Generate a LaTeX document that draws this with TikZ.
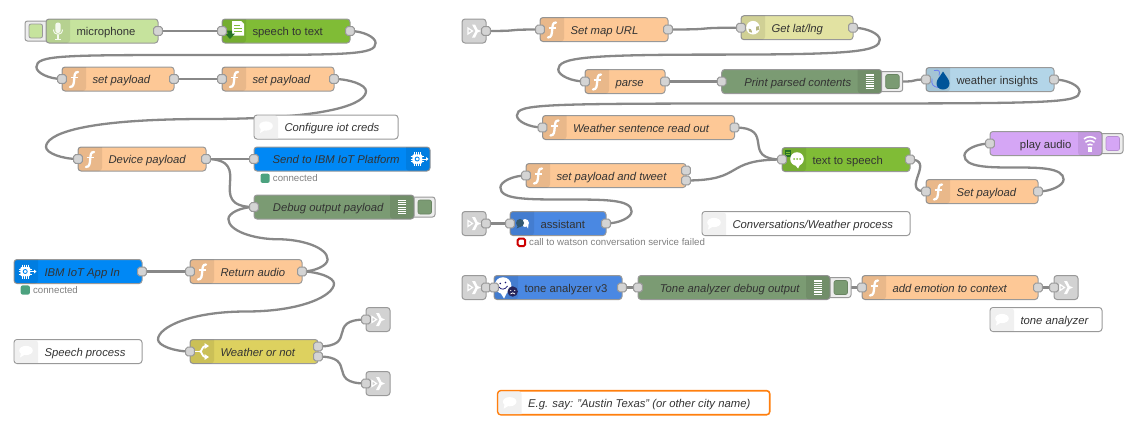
\documentclass[tikz,border=0pt]{standalone}
\usepackage{fontspec}
\setmainfont{Liberation Sans}
\pgfdeclarelayer{wires}
\pgfsetlayers{wires,main}
\definecolor{cfunc}{HTML}{FDC896}
\definecolor{cmic}{HTML}{C6E39D}
\definecolor{cstt}{HTML}{80BC36}
\definecolor{cgeo}{HTML}{E2E2A2}
\definecolor{cdebug}{HTML}{7B9B73}
\definecolor{ciot}{HTML}{0088F5}
\definecolor{cinsight}{HTML}{B3D5E8}
\definecolor{cplay}{HTML}{D5A6F5}
\definecolor{cswitch}{HTML}{DDD15F}
\definecolor{cwatson}{HTML}{4A88E2}
\definecolor{clink}{HTML}{D2D2D2}
\definecolor{cborder}{HTML}{999999}
\definecolor{ctxt}{HTML}{333333}
\definecolor{cwire}{HTML}{888888}
\definecolor{cok}{HTML}{4CA27F}
\tikzset{
  nrbody/.style={draw=cborder,line width=1pt,rounded corners=3pt,inner sep=0pt,outer sep=0pt,
     minimum height=24pt,anchor=north west,text=ctxt,text height=10.5pt,text depth=1.5pt,
     font=\fontsize{11.3}{13}\selectfont},
  port/.style={draw=cborder,fill=black!17,line width=1pt,rounded corners=1.8pt,inner sep=0pt,outer sep=0pt,
     minimum width=8.6pt,minimum height=8.6pt},
  wireline/.style={draw=cwire,line width=2.3pt},
  statustext/.style={anchor=west,inner sep=0pt,text=black!50,font=\fontsize{9.7}{11}\selectfont},
  btnouter/.style={draw=cborder,fill=black!7,line width=1pt,rounded corners=2.5pt},
  ink/.style={draw=white,line width=2pt,line cap=round},
}
\newcommand\stripL[2]{\fill[black,fill opacity=.08,rounded corners=3pt] (#1+24,#2) -- (#1,#2) -- (#1,#2+24) -- (#1+24,#2+24) [sharp corners] -- cycle;}
\newcommand\stripR[3]{\fill[black,fill opacity=.08,rounded corners=3pt] (#1+#3-24,#2) -- (#1+#3,#2) -- (#1+#3,#2+24) -- (#1+#3-24,#2+24) [sharp corners] -- cycle;}
% name,x,y,w,colour,label,icon
\newcommand\lnode[7]{%
  \node[nrbody,fill=#5,minimum width=#4pt] (#1) at (#2,#3) {\makebox[#4pt][l]{\hspace{30.5pt}#6}};
  \stripL{#2}{#3}
  \begin{scope}[shift={(#2,#3)}]#7\end{scope}}
\newcommand\rnode[7]{%
  \node[nrbody,fill=#5,minimum width=#4pt] (#1) at (#2,#3) {\makebox[#4pt][r]{#6\hspace{30.5pt}}};
  \stripR{#2}{#3}{#4}
  \begin{scope}[shift={(#2+#4-24,#3)}]#7\end{scope}}
% link node: no strip, just the grey square and its icon
\newcommand\knode[3]{%
  \node[nrbody,fill=clink,minimum width=24pt] (#1) at (#2,#3) {};
  \begin{scope}[shift={(#2,#3)}]\iclink\end{scope}}
\newcommand\cnode[5][]{%
  \node[nrbody,fill=white,minimum width=#5pt,#1] (#2) at (#3,#4) {\makebox[#5pt][l]{\hspace{30.5pt}\itshape\csname lbl#2\endcsname}};
  \fill[black!6,rounded corners=3pt] (#3+.6,#4+.6) -- (#3+24,#4+.6) [sharp corners] -- (#3+24,#4+23.4) [rounded corners=3pt] -- (#3+.6,#4+23.4) -- cycle;
  \begin{scope}[shift={(#3,#4)}]\iccomment\end{scope}}
\newcommand\inp[1]{\node[port] (#1-i) at (#1.west) {};}
\newcommand\outp[1]{\node[port] (#1-o) at (#1.east) {};}
\newcommand\btnL[3]{\path[btnouter] (#1-21,#2+2) rectangle (#1+3,#2+22);
  \fill[#3,draw=cborder,line width=.8pt,rounded corners=2pt] (#1-17,#2+5) rectangle (#1-3.5,#2+19);}
\newcommand\btnR[3]{\path[btnouter] (#1-3,#2+2) rectangle (#1+21,#2+22);
  \fill[#3,draw=#3!85!black,line width=.6pt,rounded corners=2pt] (#1+4,#2+5) rectangle (#1+17.5,#2+19);}
\newcommand\stat[5]{\fill[#4,rounded corners=2pt] (#2,#3-4.6) rectangle (#2+9.2,#3+4.6);
  \node[statustext] (#1) at (#2+12.2,#3) {#5};}
% wire computation
\newcommand\wire[2]{%
  \pgfpointanchor{#1}{center}\pgfgetlastxy{\wxa}{\wya}%
  \pgfpointanchor{#2}{center}\pgfgetlastxy{\wxb}{\wyb}%
  \pgfmathsetmacro\pxa{\wxa}\pgfmathsetmacro\pya{0-(\wya)}%
  \pgfmathsetmacro\pxb{\wxb}\pgfmathsetmacro\pyb{0-(\wyb)}%
  \pgfmathsetmacro\dxx{\pxb-\pxa}\pgfmathsetmacro\dyy{\pyb-\pya}%
  \begin{pgfonlayer}{wires}
  \ifdim\dxx pt>0pt
    \pgfmathsetmacro\del{sqrt(\dxx*\dxx+\dyy*\dyy)}%
    \pgfmathsetmacro\ctl{0.75*min(\del,80)}%
    \draw[wireline] (#1.center) .. controls (\pxa+\ctl,\pya) and (\pxb-\ctl,\pyb) .. (#2.center);
  \else
    \pgfmathsetmacro\ext{80*(0.4-0.2*max(0,(80-min(abs(\dxx),abs(\dyy)))/80))}%
    \ifdim\dyy pt>0pt\def\sgn{1}\else\def\sgn{-1}\fi
    \pgfmathsetmacro\mx{(\pxa+\pxb)/2}\pgfmathsetmacro\my{(\pya+\pyb)/2}%
    \pgfmathsetmacro\tx{\pxa+\ext}\pgfmathsetmacro\bx{\pxb-\ext}%
    \pgfmathsetmacro\ty{\pya+\sgn*12}\pgfmathsetmacro\by{\pyb-\sgn*12}%
    \pgfmathsetmacro\txh{(\pxa+\tx)/2}\pgfmathsetmacro\tyh{(\pya+\ty)/2}%
    \pgfmathsetmacro\bxh{(\pxb+\bx)/2}\pgfmathsetmacro\byh{(\pyb+\by)/2}%
    \pgfmathsetmacro\tyc{\ty+\sgn*12}\pgfmathsetmacro\byc{\by-\sgn*12}%
    \draw[wireline] (#1.center) .. controls (\txh,\pya) and (\tx,\tyh) .. (\tx,\ty)
       .. controls (\tx,\tyc) and (\tx-\ext,\my) .. (\mx,\my)
       .. controls (\bx+\ext,\my) and (\bx,\byc) .. (\bx,\by)
       .. controls (\bx,\byh) and (\bxh,\pyb) .. (#2.center);
  \fi
  \end{pgfonlayer}}
% icons (24x24 local, y down)
\newcommand\icf{\draw[ink,line width=2.3pt] (16,5) .. controls (12.5,5) and (12.7,8) .. (12.2,12) .. controls (11.8,16) and (11.8,20) .. (8,20);
  \draw[ink,line cap=butt,line width=1.8pt] (8.5,10.5) -- (15.5,10.5);}
\newcommand\icdebug{\foreach \yy in {5.5,7.7,9.9,12.1,14.3,16.5,18.7}{\draw[white,line width=1.1pt] (8,\yy) -- (16,\yy);}}
\newcommand\iclink{\draw[white,line width=1.2pt] (6,9) -- (6,15) -- (10.5,12) -- cycle;
  \fill[white] (10,5.5) -- (13,5.5) -- (15.5,10.5) -- (19,12) -- (15.5,13.5) -- (13,18.5) -- (10,18.5) -- (13.5,12) -- cycle;}
\newcommand\iccomment{\fill[white] (12,11) ellipse (6.8 and 4.6);\fill[white] (7,13) -- (6,18) -- (11,15) -- cycle;}
\newcommand\icmic{\fill[white,opacity=.85,rounded corners=2.4pt] (9.3,3.5) rectangle (14.7,14);
  \draw[white,opacity=.85,line width=1pt] (7.5,10.5) .. controls (7.5,17) and (16.5,17) .. (16.5,10.5);
  \draw[white,opacity=.85,line width=1.2pt] (12,16) -- (12,20) (9,20.3) -- (15,20.3);}
\newcommand\icdoc{\fill[white] (10,2) -- (19,2) -- (22,5) -- (22,16.5) -- (10,16.5) -- cycle;
  \draw[cstt,line width=1.1pt] (12,6.5) -- (18,6.5) (12,9.5) -- (20,9.5) (12,12.5) -- (20,12.5);
  \fill[green!35!black!85] (5,11.5) -- (10,11.5) -- (10,14.5) -- (13,14.5) -- (8,20) -- (3.5,15) -- (6,15) -- cycle;}
\newcommand\ictts{\fill[green!35!black!85] (2.5,2.5) rectangle (9,9.5);
  \draw[cstt,line width=.7pt] (3.5,4.5) -- (8,4.5) (3.5,6.5) -- (8,6.5);
  \fill[white] (15,11.5) circle (6.8);\fill[white] (12,16) -- (16,21) -- (19,15) -- cycle;
  \fill[cstt] (12,11.5) circle (1) (15,11.5) circle (1) (18,11.5) circle (1);}
\newcommand\icdrop{\draw[cinsight!60!blue,line width=.8pt] (8,3) .. controls (14,2) and (14,4) .. (13,8) (6,11) .. controls (5,17) and (7,19) .. (12,20);
  \fill[blue!45!cyan!60!black] (17,4) .. controls (20,9) and (23.5,12) .. (23.5,16) .. controls (23.5,24) and (10.5,24) .. (10.5,16) .. controls (10.5,12) and (14,9) .. (17,4) -- cycle;}
\newcommand\icwifi{\draw[white,line width=1.5pt] (6,7.5) .. controls (9,4.5) and (15,4.5) .. (18,7.5);
  \draw[white,line width=1.5pt] (7.5,10.8) .. controls (10,8.5) and (14,8.5) .. (16.5,10.8);
  \draw[white,line width=1.5pt] (9.5,13.5) .. controls (11,12.5) and (13,12.5) .. (14.5,13.5);
  \fill[white] (9.7,15.5) rectangle (14.3,20);}
\newcommand\icwatson{\fill[white] (15,11.5) circle (4);\fill[white] (16,14) -- (18,17) -- (18.5,13) -- cycle;
  \fill[blue!40!cyan!30!black!80] (10,11.5) circle (4);\fill[blue!40!cyan!30!black!80] (8,14) -- (6.5,17) -- (11,15) -- cycle;}
\newcommand\ictone{\fill[white] (9,10) circle (8.3);\fill[white] (5,15) -- (10,23) -- (14,15) -- cycle;
  \fill[blue!40!black!90] (6.2,8) circle (.9) (11.5,7) circle (.9);
  \draw[blue!40!black!90,line width=.8pt] (5,11.5) .. controls (7,14.5) and (11,14.5) .. (13.5,10.5);
  \fill[blue!25!black!85] (18.7,16) circle (5.2);
  \fill[white] (16.7,15) circle (.7) (20.7,15) circle (.7);
  \draw[white,line width=.7pt] (16.5,18.5) .. controls (17.5,17) and (20,17) .. (21,18.5);}
\newcommand\icglobe{\fill[white] (12,12) circle (6.8);
  \fill[cgeo!80!black] (7.5,13) .. controls (9,12) and (11,14) .. (11,17) .. controls (9,18) and (7,15) .. (7.5,13) -- cycle;
  \fill[cgeo!80!black] (15,11) -- (18,10.5) -- (18,14) -- (15,15) -- cycle;}
\newcommand\icswitch{\draw[white,line width=1.8pt] (5,12) -- (10,12);
  \draw[white,line width=1.8pt] (10,12) .. controls (12,12) and (12,7) .. (15,6.5) (10,12) .. controls (12,12) and (12,17) .. (15,17.5);
  \fill[white] (14.5,3.5) -- (19,6.5) -- (14.5,9.5) -- cycle (14.5,14.5) -- (19,17.5) -- (14.5,20.5) -- cycle;}
\newcommand\icchip{\fill[white,rounded corners=1pt] (6.5,7.5) rectangle (16,16.5);
  \draw[white,line width=.8pt] (8,5) -- (8,19) (10,5) -- (10,19) (12.5,5) -- (12.5,19) (14.5,5) -- (14.5,19) (4.5,9.5) -- (18,9.5) (4.5,12) -- (18,12) (4.5,14.5) -- (18,14.5);
  \fill[white,rounded corners=1pt] (6.5,7.5) rectangle (16,16.5);
  \draw[ciot,line width=.9pt] (11.2,12) circle (2);
  \draw[white,line width=1pt] (17,12) -- (21,12);\fill[white] (20,10) -- (22.5,12) -- (20,14) -- cycle;}
\def\lblcreds{Configure iot creds}
\def\lblspeechp{Speech process}
\def\lblconvp{Conversations/Weather process}
\def\lbltonec{tone analyzer}
\def\lbleg{E.g. say: "Austin Texas" (or other city name)}
\begin{document}
\begin{tikzpicture}[x=1pt,y=-1pt]
\useasboundingbox (0,0) rectangle (1145,426);
% --- left flow ---
\btnL{46}{19}{cmic}
\lnode{mic}{46}{19}{112}{cmic}{microphone}{\icmic}\outp{mic}
\lnode{stt}{222}{19}{128}{cstt}{speech to text}{\icdoc}\inp{stt}\outp{stt}
\lnode{spa}{62}{67}{112}{cfunc}{\itshape set payload}{\icf}\inp{spa}\outp{spa}
\lnode{spb}{222}{67}{112}{cfunc}{\itshape set payload}{\icf}\inp{spb}\outp{spb}
\cnode{creds}{254}{115}{144}
\lnode{devp}{78}{147}{128}{cfunc}{\itshape Device payload}{\icf}\inp{devp}\outp{devp}
\rnode{send}{254}{147}{176}{ciot}{\itshape Send to IBM IoT Platform}{\icchip}\inp{send}
\stat{sendst}{260.5}{178.3}{cok}{connected}
\btnR{414}{195}{cdebug}
\rnode{dbg}{254}{195}{160}{cdebug}{\itshape Debug output payload}{\icdebug}\inp{dbg}
\lnode{iotin}{14}{259.5}{128}{ciot}{\itshape IBM IoT App In}{\icchip}\outp{iotin}
\stat{iotst}{20.7}{290}{cok}{connected}
\lnode{reta}{190}{259.5}{112}{cfunc}{\itshape Return audio}{\icf}\inp{reta}\outp{reta}
\cnode{speechp}{14}{339.5}{128}
\lnode{wor}{190}{339.5}{128}{cswitch}{\itshape Weather or not}{\icswitch}\inp{wor}
\node[port] (wor-a) at ([yshift=5pt]wor.east) {};
\node[port] (wor-b) at ([yshift=-5pt]wor.east) {};
\knode{lka}{366}{307.5}\inp{lka}
\knode{lkb}{366}{371.5}\inp{lkb}
% --- right flow ---
\knode{lkc}{462}{19}\outp{lkc}
\lnode{smap}{540}{17.5}{128}{cfunc}{\itshape Set map URL}{\icf}\inp{smap}\outp{smap}
\lnode{gll}{741}{15.7}{112}{cgeo}{\itshape Get lat/lng}{\icglobe}\inp{gll}\outp{gll}
\lnode{parse}{585}{69.5}{80}{cfunc}{\itshape parse}{\icf}\inp{parse}\outp{parse}
\btnR{881.7}{69.5}{cdebug}
\rnode{ppc}{721.7}{69.5}{160}{cdebug}{\itshape Print parsed contents}{\icdebug}\inp{ppc}
\lnode{wins}{926}{67.5}{128}{cinsight}{weather insights}{\icdrop}\inp{wins}\outp{wins}
\lnode{wsr}{542.5}{115.5}{192}{cfunc}{\itshape Weather sentence read out}{\icf}\inp{wsr}\outp{wsr}
\lnode{tts}{782}{147.5}{128}{cstt}{text to speech}{\ictts}\inp{tts}\outp{tts}
\lnode{spt}{526}{163.5}{160}{cfunc}{\itshape set payload and tweet}{\icf}\inp{spt}
\node[port] (spt-a) at ([yshift=5pt]spt.east) {};
\node[port] (spt-b) at ([yshift=-5pt]spt.east) {};
\btnR{1102}{131.5}{cplay}
\rnode{play}{990}{131.5}{112}{cplay}{play audio}{\icwifi}\inp{play}
\lnode{setp}{926}{179.5}{112}{cfunc}{\itshape Set payload}{\icf}\inp{setp}\outp{setp}
\knode{lkd}{462}{211.5}\outp{lkd}
\lnode{asst}{510}{211.5}{96}{cwatson}{assistant}{\icwatson}\inp{asst}\outp{asst}
\fill[white,draw=red!80!black,line width=2pt,rounded corners=1.5pt] (517.7,238.7) rectangle (525.2,246);
\node[statustext] (asstst) at (529,242.3) {call to watson conversation service failed};
\cnode{convp}{702}{211.5}{208}
\knode{lke}{462}{275.5}\outp{lke}
\lnode{tone}{494}{275.5}{128}{cwatson}{tone analyzer v3}{\ictone}\inp{tone}\outp{tone}
\btnR{830}{275.5}{cdebug}
\rnode{tdbg}{638}{275.5}{192}{cdebug}{\itshape Tone analyzer debug output}{\icdebug}\inp{tdbg}
\lnode{emo}{862}{275.5}{176}{cfunc}{\itshape add emotion to context}{\icf}\inp{emo}\outp{emo}
\knode{lkf}{1054}{275.5}\inp{lkf}
\cnode{tonec}{990}{307.5}{112}
\cnode[draw={rgb,255:red,255;green,127;blue,14},line width=1.6pt]{eg}{497.7}{390.7}{272}
% --- wires ---
\wire{mic-o}{stt-i}
\wire{stt-o}{spa-i}
\wire{spa-o}{spb-i}
\wire{spb-o}{devp-i}
\wire{devp-o}{send-i}
\wire{devp-o}{dbg-i}
\wire{reta-o}{dbg-i}
\wire{iotin-o}{reta-i}
\wire{reta-o}{wor-i}
\wire{wor-a}{lka-i}
\wire{wor-b}{lkb-i}
\wire{lkc-o}{smap-i}
\wire{smap-o}{gll-i}
\wire{gll-o}{parse-i}
\wire{parse-o}{ppc-i}
\wire{wins-o}{wsr-i}
\wire{wsr-o}{tts-i}
\wire{spt-b}{tts-i}
\wire{tts-o}{setp-i}
\wire{setp-o}{play-i}
\wire{lkd-o}{asst-i}
\wire{asst-o}{spt-i}
\wire{lke-o}{tone-i}
\wire{tone-o}{tdbg-i}
\wire{emo-o}{lkf-i}
\coordinate (ppc-b) at (902.7,81.5);
\coordinate (tdbg-b) at (851,287.5);
\wire{ppc-b}{wins-i}
\wire{tdbg-b}{emo-i}
\end{tikzpicture}
\end{document}
